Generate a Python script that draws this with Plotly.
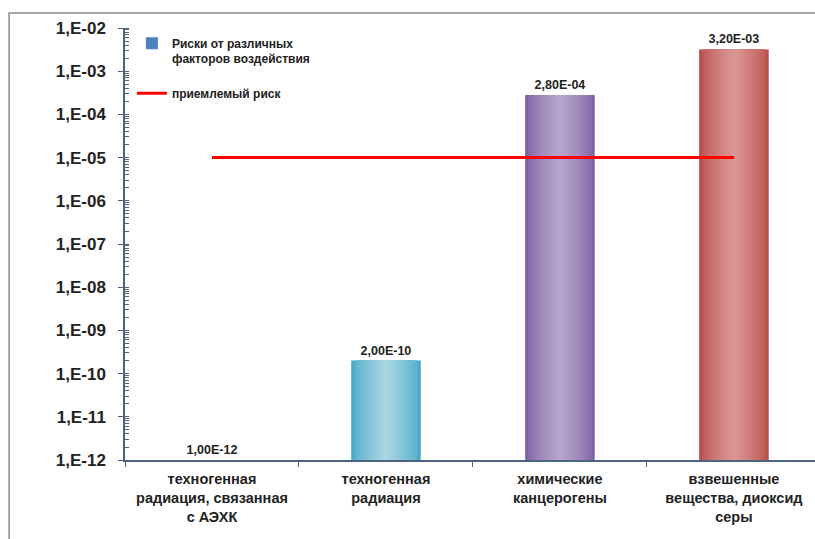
import plotly.graph_objects as go

categories = ["техногенная<br>радиация, связанная<br>с АЭХК", "техногенная<br>радиация",
              "химические<br>канцерогены", "взвешенные<br>вещества, диоксид<br>серы"]
risk_values = [1.00e-12, 2.00e-10, 2.80e-04, 3.20e-03]
risk_labels = ["1,00E-12", "2,00E-10", "2,80E-04", "3,20E-03"]
acceptable_risk = [1e-5, 1e-5, 1e-5, 1e-5]
tick_vals = [1e-12, 1e-11, 1e-10, 1e-9, 1e-8, 1e-7, 1e-6, 1e-5, 1e-4, 1e-3, 1e-2]
tick_text = ["1,E-12", "1,E-11", "1,E-10", "1,E-09", "1,E-08", "1,E-07",
             "1,E-06", "1,E-05", "1,E-04", "1,E-03", "1,E-02"]

edge_colors = [(79, 129, 189), (74, 170, 198), (126, 98, 161), (186, 78, 75)]
center_colors = [(79, 129, 189), (166, 213, 227), (182, 166, 204), (218, 150, 148)]

FONT = "Liberation Sans"
fig = go.Figure()

n_layers = 12
full_w = 0.4
for i in range(n_layers):
    t = i / (n_layers - 1)
    w = full_w * (1 - t * 0.92)
    cols = []
    for e, c in zip(edge_colors, center_colors):
        tt = t ** 0.7
        cols.append("rgb(%d,%d,%d)" % tuple(round(e[k] + (c[k] - e[k]) * tt) for k in range(3)))
    first = i == 0
    fig.add_trace(go.Bar(
        x=categories, y=risk_values, width=w,
        marker=dict(color=cols, line=dict(width=0)),
        name="Риски от различных<br>факторов воздействия",
        legendgroup="risks",
        showlegend=first,
        text=risk_labels if first else None,
        textposition="outside" if first else "none",
        textfont=dict(family=FONT, size=12.5, color="#222222", weight="bold"),
        cliponaxis=False,
        hoverinfo="skip" if not first else None,
    ))

fig.add_trace(go.Scatter(
    x=categories, y=acceptable_risk, mode="lines",
    line=dict(color="#FF0000", width=3),
    name="приемлемый риск",
    legendgroup="acceptable",
))

fig.update_layout(
    width=815, height=539,
    margin=dict(l=125, r=0, t=28, b=79),
    paper_bgcolor="white", plot_bgcolor="white",
    barmode="overlay",
    font=dict(family=FONT, color="#222222"),
    showlegend=True,
    legend=dict(x=0.01, y=0.998, xanchor="left", yanchor="top",
                bgcolor="rgba(0,0,0,0)", valign="top",
                traceorder="grouped",
                font=dict(family=FONT, size=12, color="#222222", weight="bold"),
                tracegroupgap=16, itemwidth=30),
    shapes=[dict(type="rect", xref="paper", yref="paper",
                 x0=-0.168, x1=1.05, y0=-0.3, y1=1.0347,
                 line=dict(color="#8a8a8a", width=1.5), layer="below")],
)
fig.update_xaxes(
    type="category", range=[-0.5, 3.466],
    showline=True, linecolor="#4F6181", linewidth=1.5,
    ticks="outside", tickson="boundaries", ticklen=5, tickcolor="#4F6181",
    tickfont=dict(family=FONT, size=14.5, color="#222222", weight="bold"),
    ticklabelstandoff=5,
    showgrid=False,
)
fig.update_yaxes(
    type="log", range=[-12, -2],
    tickvals=tick_vals, ticktext=tick_text,
    showline=True, linecolor="#4F6181", linewidth=1.5,
    ticks="outside", ticklen=5, tickcolor="#4F6181",
    tickfont=dict(family=FONT, size=17, color="#222222", weight="bold"),
    ticklabelstandoff=9,
    showgrid=False, zeroline=False,
    minor=dict(ticks="inside", ticklen=4, tickcolor="#4F6181", dtick="D1", showgrid=False),
)

fig.write_html("out.html")
